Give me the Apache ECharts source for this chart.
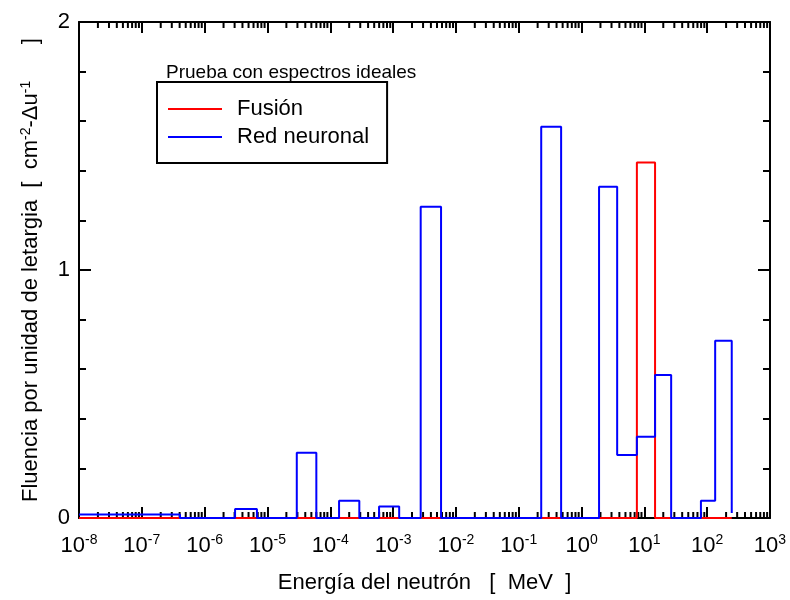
<!DOCTYPE html>
<html>
<head>
<meta charset="utf-8">
<script src="https://cdn.jsdelivr.net/npm/echarts@6/dist/echarts.min.js"></script>
<style>
  html, body { margin: 0; padding: 0; background: #fff; }
  #grf { width: 790px; height: 600px; }
</style>
</head>
<body>
<div id="grf"></div>
<script>
// Bordes de los grupos de energia [MeV]
var bordes = [1e-8, 4.05e-7, 3.05e-6, 6.8e-6, 2.93e-5, 6.0e-5, 1.38e-4, 2.9e-4, 5.98e-4, 1.25e-3,
              2.75e-3, 5.8e-3, 0.228, 0.473, 1.9, 3.69, 7.6, 14.8, 26.7, 79.5, 134, 246];

// Fluencia por grupo (un valor por grupo)
var fusion      = [0, 0, 0, 0, 0, 0, 0, 0, 0, 0, 0, 0, 0, 0, 0, 0, 1.433, 0, 0, 0, 0];
var redNeuronal = [0.014, 0, 0.036, 0, 0.263, 0, 0.07, 0, 0.046, 0, 1.255, 0, 1.578, 0, 1.336,
                   0.254, 0.328, 0.577, 0, 0.07, 0.715];
var finFusion = 0;
var finRed    = 0.02;

var grafico = echarts.init(document.getElementById('grf'));

// arma los puntos del escalon
function genEscalon(valores, fin) {
	var pts = [];
	for (var i = 0; i < valores.length; i++) {
		pts.push([bordes[i], valores[i]]);
	}
	pts.push([bordes[bordes.length - 1], fin]);
	return pts;
}

// marcas menores del eje log (2..9 por decada)
var marcasMenores = [];
for (var d = -8; d < 3; d++) {
	for (var m = 2; m <= 9; m++) {
		marcasMenores.push([m * Math.pow(10, d), 0]);
	}
}

var fuente = 'Liberation Sans, Arial, sans-serif';

var opciones = {
	animation: false,
	textStyle: { fontFamily: fuente },
	title: {
		text: 'Prueba con espectros ideales',
		left: 161,
		top: 58,
		textStyle: { fontFamily: fuente, fontSize: 19, fontWeight: 'normal', color: '#000' }
	},
	legend: {
		data: ['Fusión', 'Red neuronal'],
		orient: 'vertical',
		left: 157,
		top: 82,
		padding: [16, 18, 15, 11],
		itemGap: 6,
		itemWidth: 54,
		itemHeight: 2,
		icon: 'rect',
		borderColor: '#000',
		borderWidth: 2,
		textStyle: { fontFamily: fuente, fontSize: 22, color: '#000', padding: [0, 0, 0, 10] }
	},
	grid: {
		left: 79,
		right: 20,
		top: 22,
		bottom: 82
	},
	xAxis: [{
		type: 'log',
		logBase: 10,
		min: 1e-8,
		max: 1e3,
		interval: 1,
		splitNumber: 11,
		name: 'Energía del neutrón   [  MeV  ]',
		nameLocation: 'middle',
		nameGap: 54,
		nameTextStyle: { fontFamily: fuente, fontSize: 22, color: '#000' },
		axisLine: { onZero: false, lineStyle: { color: '#000', width: 2 } },
		axisTick: { inside: true, length: 11, lineStyle: { color: '#000', width: 2 } },
		splitLine: { show: false },
		axisLabel: {
			margin: 15,
			color: '#000',
			formatter: function (v) {
				var e = Math.round(Math.log10(v));
				return '{b|10}{s|' + e + '}';
			},
			rich: {
				b: { fontFamily: fuente, fontSize: 22, color: '#000', lineHeight: 26 },
				s: { fontFamily: fuente, fontSize: 14, color: '#000', verticalAlign: 'top', lineHeight: 14 }
			}
		}
	}, {
		type: 'log',
		logBase: 10,
		position: 'top',
		min: 1e-8,
		max: 1e3,
		interval: 1,
		splitNumber: 11,
		axisLine: { onZero: false, lineStyle: { color: '#000', width: 2 } },
		axisTick: { inside: true, length: 11, lineStyle: { color: '#000', width: 2 } },
		axisLabel: { show: false },
		splitLine: { show: false }
	}],
	yAxis: [{
		type: 'value',
		min: 0,
		max: 2,
		interval: 1,
		name: '{t|Fluencia por unidad de letargia  [  cm}{s|-2}{t|-Δu}{s|-1}{t|      ]}',
		nameLocation: 'middle',
		nameGap: 36,
		nameTextStyle: {
			rich: {
				t: { fontFamily: fuente, fontSize: 22, color: '#000', lineHeight: 24 },
				s: { fontFamily: fuente, fontSize: 14, color: '#000', verticalAlign: 'top', lineHeight: 14 }
			}
		},
		axisLine: { onZero: false, lineStyle: { color: '#000', width: 2 } },
		axisTick: { inside: true, length: 12, lineStyle: { color: '#000', width: 2 } },
		minorTick: { show: true, splitNumber: 5, length: 7, lineStyle: { color: '#000', width: 2 } },
		splitLine: { show: false },
		axisLabel: { margin: 9, fontFamily: fuente, fontSize: 22, color: '#000' }
	}, {
		type: 'value',
		position: 'right',
		min: 0,
		max: 2,
		interval: 1,
		axisLine: { onZero: false, lineStyle: { color: '#000', width: 2 } },
		axisTick: { inside: true, length: 12, lineStyle: { color: '#000', width: 2 } },
		minorTick: { show: true, splitNumber: 5, length: 7, lineStyle: { color: '#000', width: 2 } },
		splitLine: { show: false },
		axisLabel: { show: false }
	}],
	series: [{
		name: 'marcas',
		type: 'custom',
		xAxisIndex: 0,
		yAxisIndex: 0,
		z: 1,
		silent: true,
		clip: false,
		data: marcasMenores,
		renderItem: function (params, api) {
			var abajo = api.coord([api.value(0), 0]);
			var arriba = api.coord([api.value(0), 2]);
			var estilo = { stroke: '#000', lineWidth: 2 };
			return {
				type: 'group',
				children: [
					{ type: 'line', shape: { x1: abajo[0], y1: abajo[1], x2: abajo[0], y2: abajo[1] - 6 }, style: estilo },
					{ type: 'line', shape: { x1: arriba[0], y1: arriba[1], x2: arriba[0], y2: arriba[1] + 6 }, style: estilo }
				]
			};
		}
	}, {
		name: 'Fusión',
		type: 'line',
		step: 'end',
		showSymbol: false,
		z: 3,
		color: '#ff0000',
		lineStyle: { color: '#ff0000', width: 2 },
		data: genEscalon(fusion, finFusion)
	}, {
		name: 'Red neuronal',
		type: 'line',
		step: 'end',
		showSymbol: false,
		z: 4,
		color: '#0000ff',
		lineStyle: { color: '#0000ff', width: 2 },
		data: genEscalon(redNeuronal, finRed)
	}]
};

grafico.setOption(opciones);
</script>
</body>
</html>
